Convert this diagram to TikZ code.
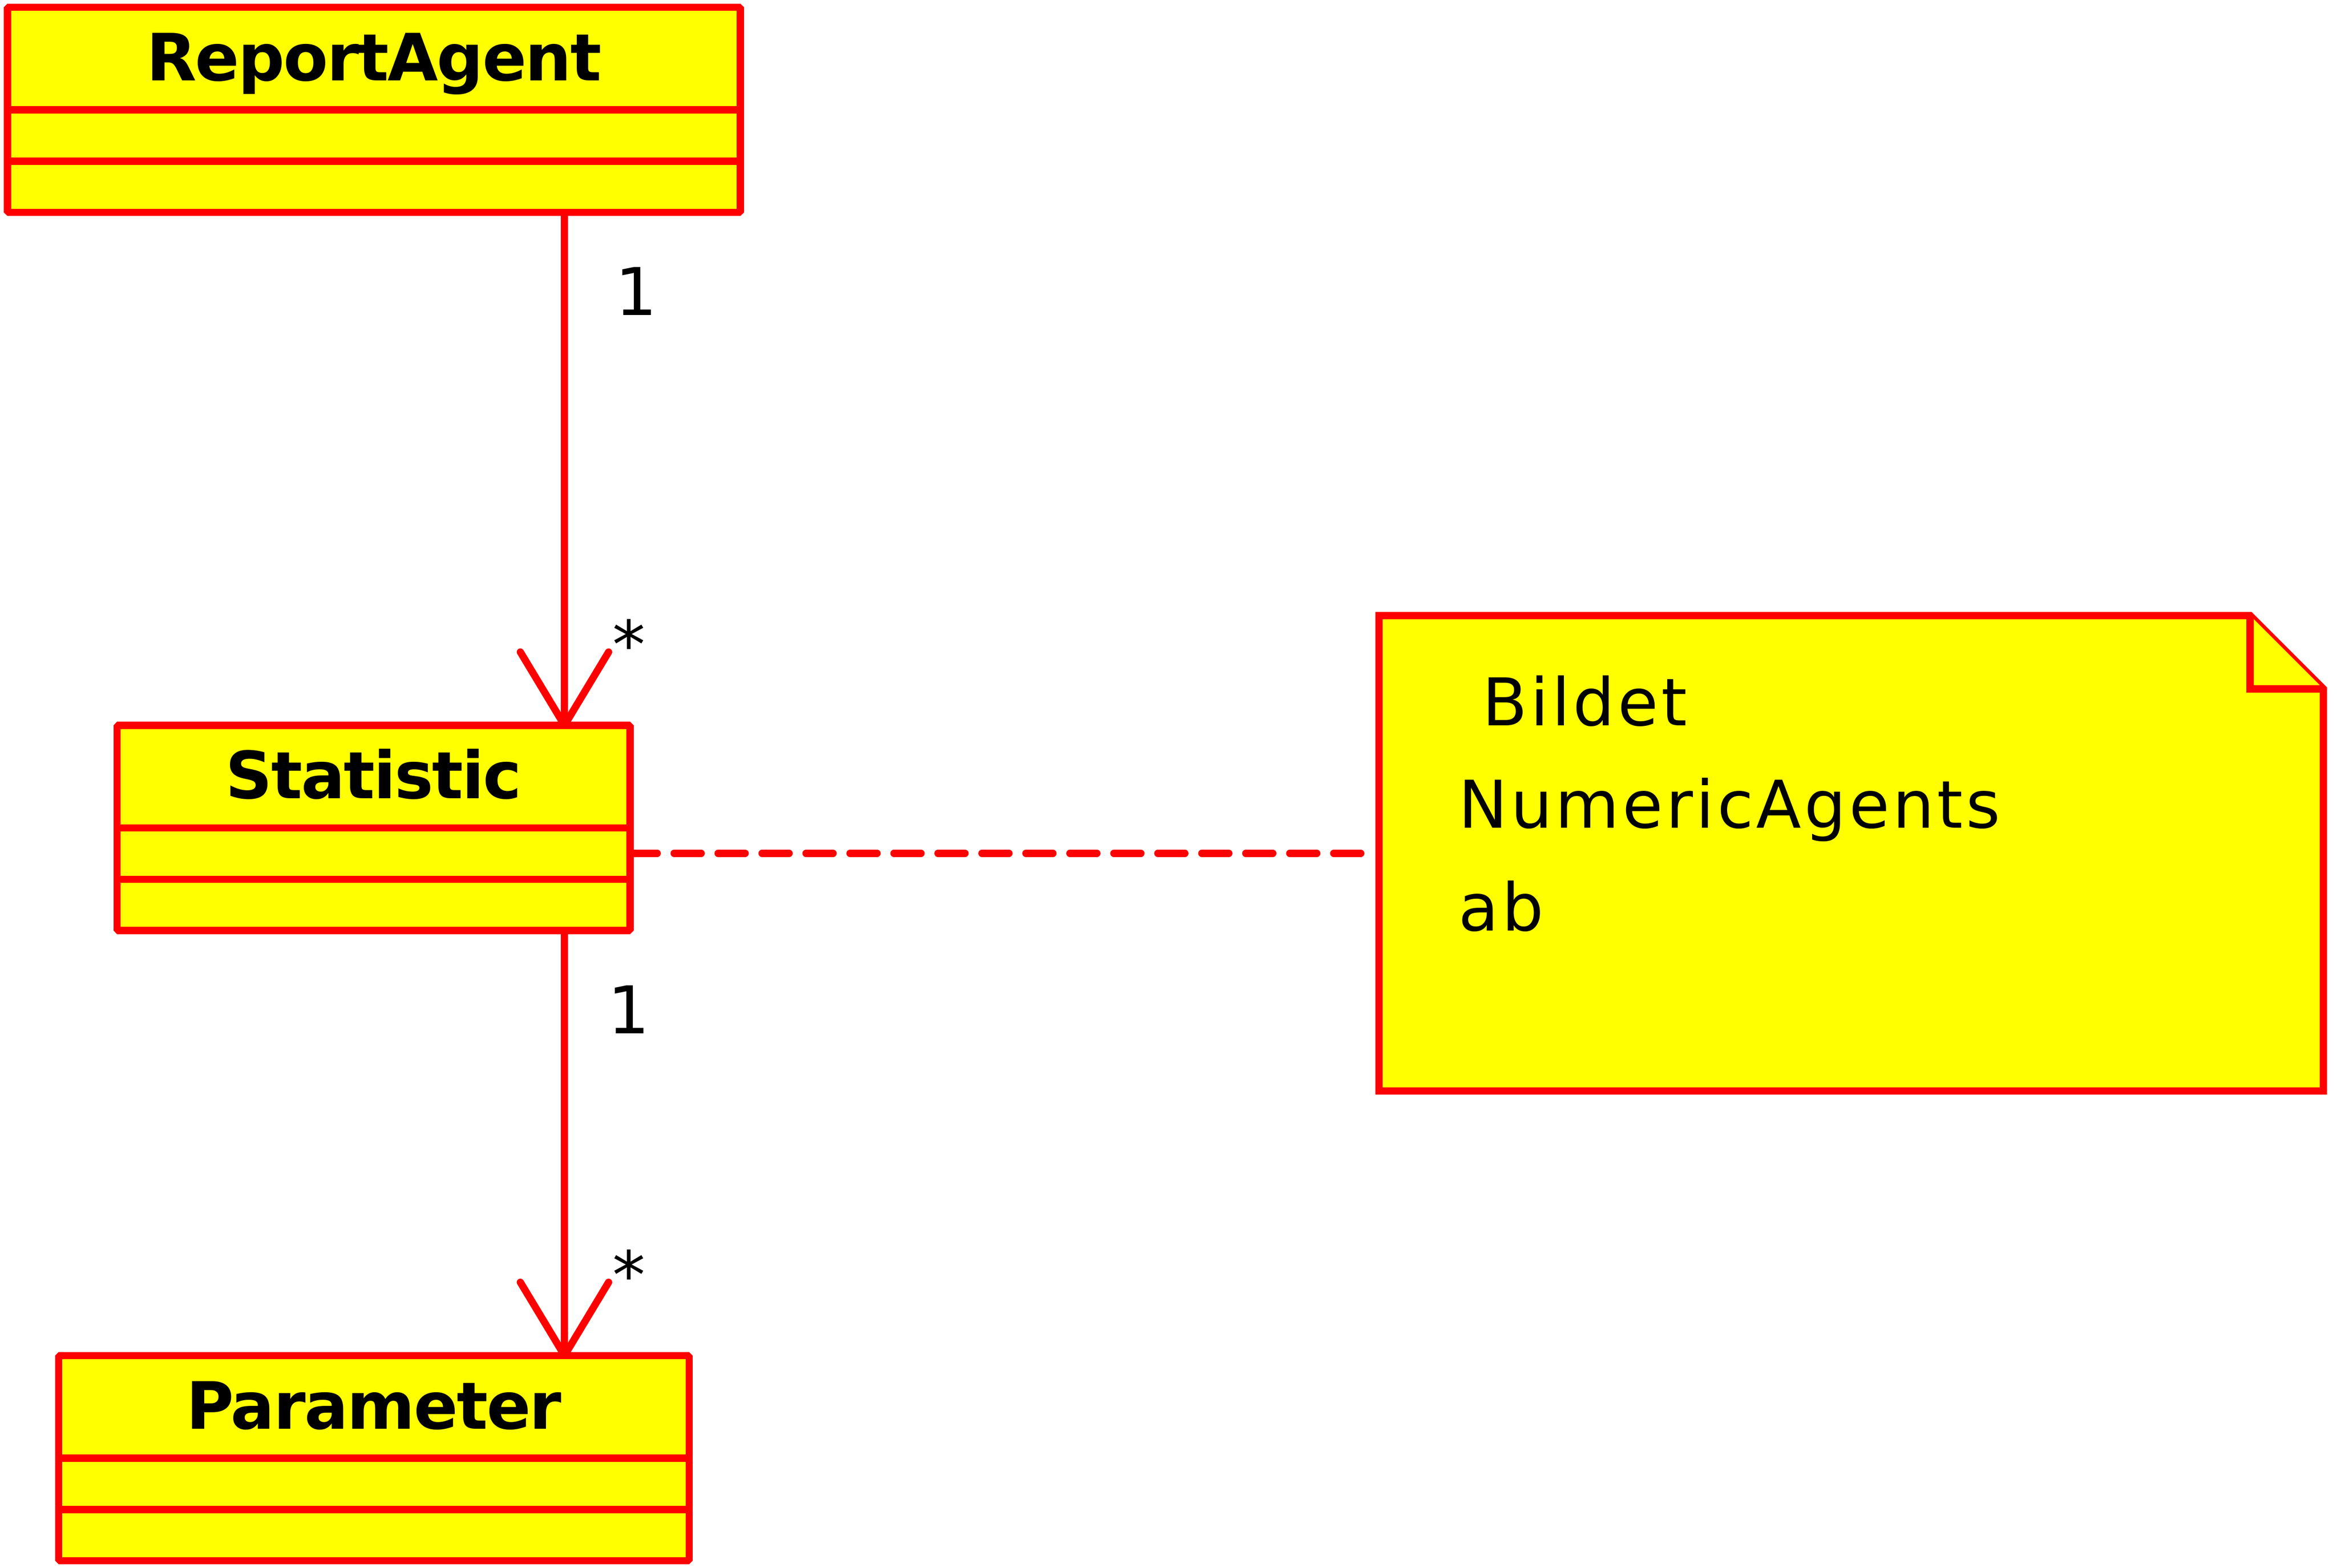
\documentclass[tikz,border=0pt]{standalone}
\usepackage{fontspec}
\setmainfont{DejaVu Sans}
\newfontfamily\classfont[LetterSpace=-2]{DejaVu Sans}
\newfontfamily\notefont[LetterSpace=4.5]{DejaVu Sans}
\usepackage{xcolor}
\usepackage{tikz}
\usetikzlibrary{positioning,calc,arrows.meta}

\definecolor{umlred}{HTML}{FF0000}
\definecolor{umlyellow}{HTML}{FFFF00}

\tikzset{
    umlclass/.style={draw=umlred, fill=umlyellow, line width=4.85pt, line join=bevel,
        minimum height=137.2pt, inner sep=0pt, outer sep=0pt},
    compart/.style={draw=umlred, line width=4.85pt},
    classname/.style={anchor=base, inner sep=0pt,
        font=\classfont\bfseries\fontsize{43.6pt}{52pt}\selectfont},
    assoc/.style={draw=umlred, line width=4.85pt, shorten >=-2.4pt,
        -{Straight Barb[length=49pt, width=59pt, round]}},
    multlabel/.style={anchor=base west, inner sep=0pt,
        font=\fontsize{44pt}{52pt}\selectfont},
    notebox/.style={minimum width=631.4pt, minimum height=317.9pt, inner sep=0pt, outer sep=0pt},
    noteline/.style={draw=umlred, fill=umlyellow, line width=4.85pt},
    notetext/.style={anchor=base west, inner sep=0pt,
        font=\notefont\fontsize{44pt}{52pt}\selectfont},
    anchorline/.style={draw=umlred, line width=4.85pt, line cap=round,
        dash pattern=on 18.1pt off 11.3pt},
}

\begin{document}
\begin{tikzpicture}[x=1pt, y=-1pt]
    \useasboundingbox (0,0) rectangle (1562.5,1048.2);

    % ReportAgent
    \node[umlclass, minimum width=490pt] (ra) at (250, 73.45) {};
    \draw[compart] ([yshift=-68.6pt]ra.north west) -- ([yshift=-68.6pt]ra.north east);
    \draw[compart] ([yshift=-102.9pt]ra.north west) -- ([yshift=-102.9pt]ra.north east);
    \node[classname] (raname) at ([yshift=-49pt]ra.north) {ReportAgent};

    % Statistic
    \node[umlclass, minimum width=343pt] (st) at (249.8, 553.6) {};
    \draw[compart] ([yshift=-68.6pt]st.north west) -- ([yshift=-68.6pt]st.north east);
    \draw[compart] ([yshift=-102.9pt]st.north west) -- ([yshift=-102.9pt]st.north east);
    \node[classname] (stname) at ([yshift=-49pt]st.north) {Statistic};

    % Parameter
    \node[umlclass, minimum width=421.5pt] (pa) at (249.95, 975) {};
    \draw[compart] ([yshift=-68.6pt]pa.north west) -- ([yshift=-68.6pt]pa.north east);
    \draw[compart] ([yshift=-102.9pt]pa.north west) -- ([yshift=-102.9pt]pa.north east);
    \node[classname] (paname) at ([yshift=-49pt]pa.north) {Parameter};

    % Note
    \node[notebox] (note) at (1237.7, 570.55) {};
    \draw[noteline] (note.south west) -- (note.north west) -- ([xshift=-49pt]note.north east)
        -- ([yshift=-49pt]note.north east) -- (note.south east) -- cycle;
    \draw[noteline] ([xshift=-49pt]note.north east) -- ([xshift=-49pt, yshift=-49pt]note.north east)
        -- ([yshift=-49pt]note.north east);
    \node[notetext] (line1) at (975, 485) {\ Bildet};
    \node[notetext] (line2) at (975, 553.6) {NumericAgents};
    \node[notetext] (line3) at (975, 622.3) {ab};

    % Associations
    \draw[assoc] ([xshift=127.4pt]ra.south) -- ([xshift=127.6pt]st.north);
    \node[multlabel] (m1) at (411.1, 210.7) {1};
    \node[multlabel] (m2) at (409.3, 446.8) {*};

    \draw[assoc] ([xshift=127.6pt]st.south) -- ([xshift=127.45pt]pa.north);
    \node[multlabel] (m3) at (406.1, 691.2) {1};
    \node[multlabel] (m4) at (409.3, 868.2) {*};

    % Note anchor
    \draw[anchorline] (st.east |- note.west) -- ([xshift=-8pt]note.west);
\end{tikzpicture}
\end{document}
